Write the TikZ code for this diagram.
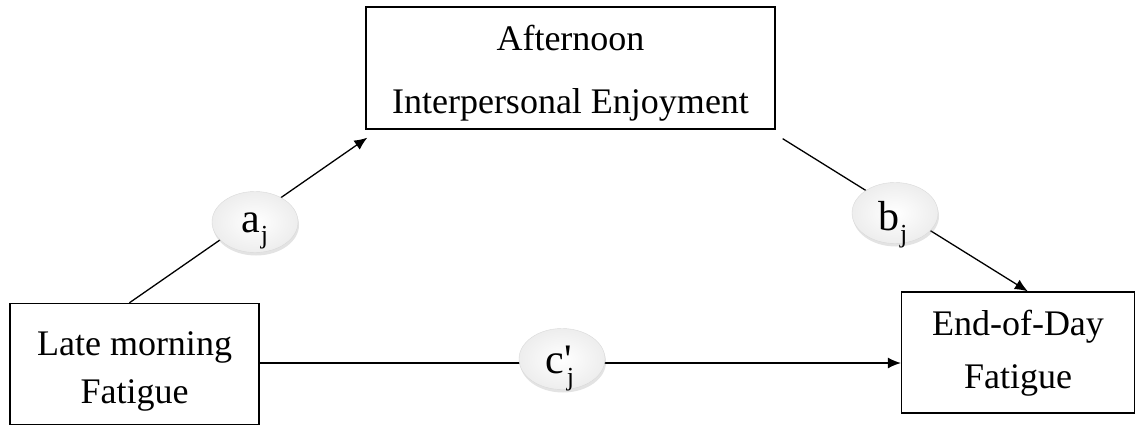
\documentclass[tikz,border=0pt]{standalone}
\usepackage{fontspec}
\setmainfont{Liberation Serif}
\usetikzlibrary{arrows.meta,shadows,calc,shapes.geometric}
\newcommand{\subj}[1][-11pt]{\kern0.5pt\raisebox{#1}{\fontsize{26}{26}\selectfont j}}
\begin{document}
\begin{tikzpicture}[x=1pt,y=-1pt,
  box/.style={draw=black,line width=1.3pt,inner sep=0pt},
  txt/.style={anchor=base,inner sep=0pt,font=\fontsize{36}{40}\selectfont},
  conn/.style={line width=1.3pt,-{Latex[length=13pt,width=11pt]}},
  coef/.style={ellipse,minimum width=86pt,minimum height=61pt,inner sep=0pt,
    shading=radial,inner color=white,outer color=gray!14,draw=gray!30,line width=0.4pt,
    drop shadow={shadow xshift=1pt,shadow yshift=-3pt,opacity=0.22,fill=gray}},
  coeftxt/.style={anchor=base,inner sep=0pt,font=\fontsize{42}{44}\selectfont}]
\useasboundingbox (0,0) rectangle (1136,426);
% boxes
\node[box,minimum width=409pt,minimum height=122pt] (T) at (570.5,68) {};
\node[box,minimum width=249pt,minimum height=121pt] (L) at (134.5,364) {};
\node[box,minimum width=233pt,minimum height=121pt] (R) at (1018,352.5) {};
% texts
\node[txt] (t1) at (570.5,50) {Afternoon};
\node[txt] (t2) at (570.5,113) {Interpersonal Enjoyment};
\node[txt] (l1) at (134.5,355) {Late morning};
\node[txt] (l2) at (134.5,403) {Fatigue};
\node[txt] (r1) at (1018,335) {End-of-Day};
\node[txt] (r2) at (1018,388) {Fatigue};
% connector end points
\coordinate (aS) at ($(L.north west)+(120,0)$);
\coordinate (aE) at ($(T.south west)+(2,8)$);
\coordinate (bS) at ($(T.south east)+(7,9)$);
\coordinate (bE) at ($(R.north west)+(127,0)$);
% connectors
\draw[conn] (aS) -- (aE);
\draw[conn] (bS) -- (bE);
\draw[conn] (L.east |- 0,363) -- (R.west |- 0,363);
% coefficients
\node[coef] (a) at (255,222) {};
\node[coef] (b) at (895,213) {};
\node[coef] (c) at (562,359) {};
\node[coeftxt] (at) at (255,232) {a\subj};
\node[coeftxt] (bt) at (893,230) {b\subj[-12pt]};
\node[coeftxt] (ct) at (560,373) {c\rlap{\textquotesingle}\kern2pt\subj[-12pt]};
\end{tikzpicture}
\end{document}
